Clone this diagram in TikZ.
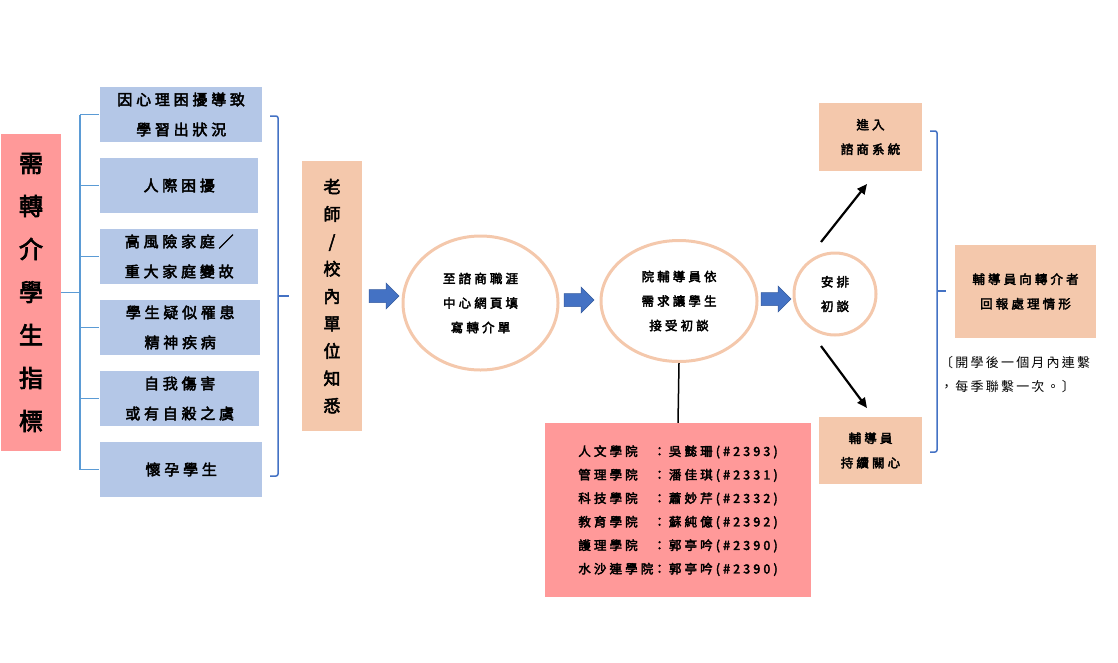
\documentclass[tikz,border=0pt]{standalone}
\usepackage{fontspec}
\usetikzlibrary{shapes.geometric,arrows.meta}
\newfontfamily\cjk{Noto Sans CJK TC}[FakeBold=3,LetterSpace=25]
\newfontfamily\cjkthin{Noto Sans CJK TC}[LetterSpace=17]
\definecolor{pinkred}{HTML}{FF9999}
\definecolor{paleblue}{HTML}{B4C7E7}
\definecolor{peach}{HTML}{F4C8AC}
\definecolor{linkblue}{HTML}{5B9BD5}
\definecolor{darkblue}{HTML}{4472C4}
\tikzset{
  blockarrow/.pic = {\fill[darkblue, draw=darkblue!80!black, line width=.5]
    (0,-6.5) -- (17,-6.5) -- (17,-13) -- (30,0) -- (17,13) -- (17,6.5) -- (0,6.5) -- cycle;}
}
\begin{document}
\begin{tikzpicture}[x=1pt, y=-1pt,
    box/.style = {inner sep=0pt, align=center, font=\cjk\fontsize{12.5}{24.5}\selectfont},
    sign/.style = {box, fill=paleblue, minimum height=55, anchor=west, font=\cjk\fontsize{15}{30}\selectfont},
    peachbox/.style = {box, fill=peach},
    oval/.style = {box, ellipse, draw=peach, line width=3},
    bracket/.style = {darkblue, line width=1.5},
    thinlink/.style = {linkblue, line width=1.5},
    pointer/.style = {line width=2.2, -{Triangle[length=10,width=9]}}]
    \useasboundingbox (0,0) rectangle (1118,662);

    \node[box, fill=pinkred, minimum width=60, minimum height=317,
          font=\cjk\fontsize{24}{43}\selectfont] (need) at (31,292.5) {需\\轉\\介\\學\\生\\指\\標};

    \node[sign, minimum width=162] (s1) at (100,114.5) {因心理困擾導致\\學習出狀況};
    \node[sign, minimum width=158] (s2) at (100,185.5) {人際困擾};
    \node[sign, minimum width=158] (s3) at (100,256.5) {高風險家庭／\\重大家庭變故};
    \node[sign, minimum width=160] (s4) at (100,327.5) {學生疑似罹患\\精神疾病};
    \node[sign, minimum width=159] (s5) at (100,398.5) {自我傷害\\或有自殺之虞};
    \node[sign, minimum width=162] (s6) at (100,469.5) {懷孕學生};

    % left bracket
    \coordinate (spine) at (80,292.5);
    \draw[thinlink] (need.east) -- (spine);
    \draw[thinlink] (spine |- s1.west) -- (spine |- s6.west);
    \foreach \i in {1,...,6}
        \draw[thinlink, shorten >=1] (spine |- s\i.west) -- (s\i.west);

    % right brace
    \draw[bracket, rounded corners=2] (270,116) -- (278,116) -- (278,476) -- (270,476);
    \draw[bracket] (278,296) -- (289,296);

    \node[peachbox, minimum width=60, minimum height=270,
          font=\cjk\fontsize{17}{27.4}\selectfont] (teacher) at (332,296) {老\\師\\/\\校\\內\\單\\位\\知\\悉};

    \pic at (369,296) {blockarrow};
    \node[oval, minimum width=155, minimum height=134] (web) at (480.5,303) {至諮商職涯\\中心網頁填\\寫轉介單};
    \pic at (564,300) {blockarrow};
    \node[oval, minimum width=156, minimum height=121] (advisor) at (679,301) {院輔導員依\\需求讓學生\\接受初談};
    \pic at (761,299) {blockarrow};
    \node[oval, circle, minimum size=82] (intake) at (835,294) {安排\\初談};

    \node[box, fill=pinkred, minimum width=266, minimum height=174,
          font=\cjk\fontsize{12.5}{23.5}\selectfont] (staff) at (678,510) {%
        \begin{tabular}{@{}l@{}l@{}}
        人文學院 & ：吳懿珊(\#2393)\\
        管理學院 & ：潘佳琪(\#2331)\\
        科技學院 & ：蕭妙芹(\#2332)\\
        教育學院 & ：蘇純億(\#2392)\\
        護理學院 & ：郭亭吟(\#2390)\\
        水沙連學院 & ：郭亭吟(\#2390)
        \end{tabular}};
    \draw[line width=1.5] (advisor.south) -- (staff.north);

    \node[peachbox, minimum width=103, minimum height=68] (enter) at (870.5,137) {進入\\諮商系統};
    \node[peachbox, minimum width=103, minimum height=67] (care) at (870.5,450.5) {輔導員\\持續關心};
    \coordinate (up0) at (821,242);
    \coordinate (up1) at (867,184);
    \coordinate (down0) at (821,346);
    \coordinate (down1) at (867,408);
    \draw[pointer] (up0) -- (up1);
    \draw[pointer] (down0) -- (down1);

    % brace towards the report
    \draw[bracket, rounded corners=2] (930,131) -- (937,131) -- (937,452) -- (930,452);
    \draw[bracket] (937,291) -- (946,291);

    \node[peachbox, minimum width=141, minimum height=93] (report) at (1025.5,291.5) {輔導員向轉介者\\回報處理情形};
    \node[align=left, anchor=west, inner sep=0pt,
          font=\cjkthin\fontsize{13}{24}\selectfont] (note) at (940,375) {〔開學後一個月內連繫\\，每季聯繫一次。〕};
\end{tikzpicture}
\end{document}
